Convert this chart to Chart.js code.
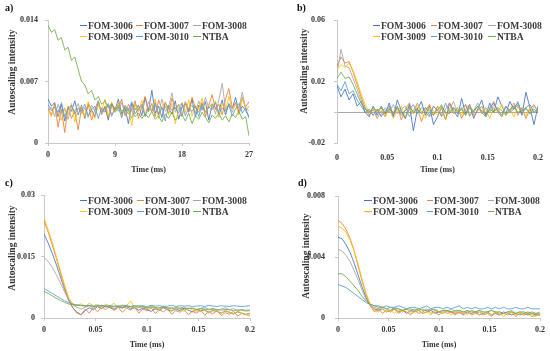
<!DOCTYPE html>
<html><head><meta charset="utf-8">
<script src="https://cdn.jsdelivr.net/npm/chart.js@4.4.1/dist/chart.umd.min.js"></script>
<style>
html,body{margin:0;padding:0;background:#fff;}
#wrap{position:relative;width:550px;height:351px;overflow:hidden;background:#fff;font-family:'Liberation Serif','Times New Roman',serif;font-weight:bold;color:#333;}
.panel{position:absolute;}
.lbl{position:absolute;font-size:10px;line-height:10px;color:#111;}
.ytitle{position:absolute;font-size:9.5px;line-height:10px;white-space:nowrap;transform:translate(-50%,-50%) rotate(-90deg);}
.leg{position:absolute;font-size:9.6px;line-height:11px;white-space:nowrap;color:#3a3a3a;}
.sw{position:absolute;height:1px;}
</style></head>
<body><div id="wrap"></div>
<script>
// ---------- data ----------
const seriesNames = ['FOM-3006','FOM-3007','FOM-3008','FOM-3009','FOM-3010','NTBA'];
const seriesColors = ['#4472C4','#ED7D31','#A5A5A5','#FFC000','#5B9BD5','#70AD47'];

// sampling grids (ms)
const timeA = Array.from({length:61},(_,i)=>Math.round(i*45)/100);
const timeBCD = Array.from({length:51},(_,i)=>Math.round(i*4)/1000);

const xTicksA = [0,9,18,27];           const xLabelsA = ['0','9','18','27'];
const xTicksB = [0,0.05,0.1,0.15,0.2]; const xLabelsB = ['0','0.05','0.1','0.15','0.2'];
const yTicksA = [0,0.007,0.014];       const yLabelsA = ['0','0.007','0.014'];
const yTicksB = [-0.02,0,0.02,0.06];   const yLabelsB = ['-0.02','','0.02','0.06'];
const yTicksC = [0,0.015,0.03];        const yLabelsC = ['0','0.015','0.03'];
const yTicksD = [0,0.004,0.008];       const yLabelsD = ['0','0.004','0.008'];

// panel a)
const A_3006 = [.0050,.0042,.0046,.0030,.0044,.0025,.0040,.0036,.0048,.0032,
 .0043,.0028,.0045,.0038,.0030,.0047,.0035,.0041,.0026,.0044,
 .0037,.0050,.0033,.0040,.0022,.0045,.0038,.0043,.0031,.0052,
 .0036,.0060,.0034,.0042,.0029,.0046,.0039,.0033,.0048,.0027,
 .0041,.0045,.0035,.0050,.0030,.0043,.0038,.0047,.0026,.0044,
 .0040,.0036,.0049,.0032,.0045,.0039,.0052,.0034,.0042,.0037,.0030];
const A_3007 = [.0040,.0032,.0045,.0018,.0038,.0012,.0042,.0028,.0036,.0015,
 .0040,.0030,.0044,.0026,.0038,.0048,.0033,.0042,.0029,.0046,
 .0035,.0040,.0050,.0031,.0044,.0037,.0048,.0028,.0041,.0053,
 .0036,.0045,.0030,.0049,.0038,.0042,.0034,.0051,.0039,.0044,
 .0031,.0047,.0036,.0052,.0040,.0035,.0046,.0030,.0043,.0055,
 .0038,.0044,.0032,.0050,.0062,.0040,.0046,.0035,.0052,.0041,.0047];
const A_3008 = [.0036,.0041,.0030,.0044,.0034,.0039,.0027,.0042,.0036,.0045,
 .0033,.0040,.0029,.0043,.0037,.0048,.0032,.0039,.0044,.0030,
 .0041,.0036,.0046,.0034,.0040,.0028,.0045,.0038,.0042,.0031,
 .0047,.0037,.0043,.0033,.0050,.0036,.0041,.0057,.0035,.0044,
 .0030,.0046,.0039,.0043,.0034,.0048,.0037,.0052,.0040,.0045,
 .0033,.0049,.0068,.0038,.0044,.0035,.0046,.0040,.0058,.0037,.0042];
const A_3009 = [.0038,.0030,.0042,.0034,.0026,.0040,.0032,.0045,.0024,.0038,
 .0042,.0030,.0047,.0035,.0028,.0043,.0037,.0050,.0031,.0040,
 .0035,.0046,.0029,.0042,.0038,.0020,.0044,.0036,.0048,.0033,
 .0041,.0037,.0050,.0028,.0042,.0047,.0032,.0045,.0022,.0040,
 .0046,.0035,.0049,.0031,.0043,.0038,.0051,.0034,.0044,.0040,
 .0048,.0029,.0045,.0037,.0053,.0039,.0044,.0032,.0050,.0041,.0036];
const A_3010 = [.0044,.0037,.0041,.0035,.0046,.0030,.0039,.0043,.0033,.0040,
 .0036,.0044,.0031,.0038,.0042,.0028,.0040,.0035,.0045,.0032,
 .0038,.0041,.0029,.0043,.0036,.0047,.0033,.0039,.0044,.0030,
 .0040,.0036,.0046,.0032,.0041,.0025,.0043,.0037,.0040,.0034,
 .0045,.0031,.0039,.0036,.0042,.0030,.0044,.0035,.0041,.0038,
 .0046,.0033,.0040,.0036,.0043,.0031,.0039,.0045,.0034,.0040,.0028];
const A_NTBA = [.0134,.0126,.0129,.0117,.0120,.0106,.0109,.0094,.0098,.0084,
 .0070,.0066,.0056,.0060,.0049,.0053,.0044,.0048,.0040,.0045,
 .0039,.0043,.0036,.0040,.0033,.0037,.0030,.0034,.0028,.0033,
 .0029,.0036,.0027,.0031,.0024,.0033,.0028,.0035,.0026,.0030,
 .0032,.0025,.0034,.0022,.0031,.0027,.0035,.0029,.0023,.0032,
 .0028,.0034,.0026,.0031,.0024,.0033,.0029,.0036,.0027,.0030,.0008];

// panel b)
const B_3006 = [.017,.010,.015,.008,.012,.004,.007,.000,-.003,.004,
 -.002,.004,-.001,.006,-.003,.008,.001,-.004,.005,-.012,
 .002,.007,-.002,.004,-.008,-.003,.003,-.005,.006,.001,
 -.003,.009,-.001,.005,-.004,.002,.008,-.002,.006,.000,
 .010,.004,-.001,.007,.002,.005,-.002,.013,.003,-.008,.004];
const B_3007 = [.030,.036,.032,.033,.026,.018,.010,.003,-.002,.002,
 -.004,.001,-.003,.003,-.002,.004,-.005,.002,.006,-.001,
 .003,-.006,.001,.005,-.002,.004,-.003,.002,.006,-.001,
 .003,-.004,.002,.005,-.002,.001,.004,-.003,.002,.007,
 .000,-.003,.004,.001,.006,-.002,.003,-.004,.002,.005,.000];
const B_3008 = [.025,.041,.030,.029,.022,.015,.008,.002,.001,-.002,
 .001,-.002,.003,.000,.005,-.001,.002,.004,-.003,.001,
 .006,.000,.003,-.002,.004,.001,.005,-.001,.002,.007,
 .000,.003,-.002,.004,.001,.006,-.001,.003,.000,.005,
 .002,-.002,.004,.001,.003,.006,.000,.002,-.001,.004,.001];
const B_3009 = [.028,.031,.029,.032,.027,.020,.012,.005,.000,.003,
 .000,.003,-.002,.002,-.004,.001,.004,-.003,.002,-.001,
 .005,.000,-.004,.003,.001,-.002,.004,-.005,.002,.000,
 .003,-.002,.005,-.003,.001,.004,-.001,.002,-.004,.003,
 .000,.005,-.002,.002,-.003,.004,.001,-.002,.003,.000,.002];
const B_3010 = [.018,.014,.020,.012,.014,.008,.004,.000,.002,-.002,
 .002,-.003,.001,.004,-.002,.003,.000,-.004,.002,.005,
 -.001,.003,.000,-.003,.004,.001,-.002,.006,.000,.003,
 -.001,.002,.005,-.002,.001,.004,.000,-.003,.003,.006,
 .001,-.002,.004,.000,.002,.007,-.001,.003,.005,.000,.002];
const B_NTBA = [.022,.026,.022,.023,.018,.012,.006,.002,.000,.003,
 .001,.003,-.001,.002,.000,.003,-.002,.001,.004,.000,
 .002,-.001,.003,.001,-.002,.002,.004,.000,-.001,.003,
 .001,.002,-.002,.003,.000,.004,.001,-.001,.002,.000,
 .003,.001,-.002,.002,.004,.000,.001,.003,-.001,.002,.000];

// panel c)
const C_3006 = [.0205,.0183,.0158,.0130,.0100,.0070,.0042,.0025,.0014,.0008,
 .0018,.0025,.0020,.0028,.0023,.0030,.0025,.0021,.0027,.0024,
 .0029,.0022,.0026,.0019,.0024,.0021,.0016,.0023,.0019,.0025,
 .0020,.0017,.0022,.0018,.0024,.0019,.0015,.0021,.0017,.0020,
 .0014,.0018,.0016,.0012,.0017,.0014,.0010,.0015,.0012,.0009,.0011];
const C_3007 = [.0238,.0210,.0178,.0145,.0110,.0075,.0045,.0025,.0012,.0008,
 .0022,.0012,.0025,.0015,.0028,.0020,.0030,.0018,.0026,.0014,
 .0024,.0019,.0027,.0012,.0022,.0017,.0025,.0011,.0020,.0015,
 .0023,.0009,.0018,.0014,.0021,.0008,.0016,.0012,.0019,.0007,
 .0015,.0010,.0018,.0006,.0013,.0009,.0016,.0005,.0011,.0008,.0006];
const C_3008 = [.0148,.0138,.0124,.0105,.0085,.0064,.0045,.0032,.0026,.0022,
 .0026,.0030,.0024,.0028,.0031,.0026,.0029,.0023,.0027,.0030,
 .0025,.0028,.0022,.0026,.0029,.0024,.0027,.0021,.0025,.0028,
 .0023,.0026,.0020,.0024,.0027,.0022,.0025,.0019,.0023,.0026,
 .0021,.0024,.0018,.0022,.0025,.0020,.0023,.0017,.0021,.0019,.0020];
const C_3009 = [.0245,.0215,.0185,.0150,.0115,.0080,.0050,.0034,.0030,.0035,
 .0028,.0036,.0030,.0033,.0027,.0034,.0029,.0036,.0025,.0032,
 .0030,.0042,.0024,.0031,.0028,.0022,.0030,.0026,.0020,.0029,
 .0024,.0018,.0027,.0022,.0016,.0025,.0020,.0015,.0023,.0018,
 .0012,.0021,.0016,.0011,.0019,.0014,.0009,.0017,.0012,.0008,.0012];
const C_3010 = [.0072,.0066,.0060,.0054,.0048,.0042,.0037,.0034,.0032,.0031,
 .0030,.0031,.0029,.0030,.0031,.0029,.0030,.0028,.0030,.0029,
 .0031,.0028,.0030,.0029,.0030,.0028,.0031,.0029,.0030,.0028,
 .0029,.0031,.0028,.0030,.0029,.0030,.0028,.0029,.0030,.0028,
 .0031,.0029,.0028,.0030,.0029,.0028,.0030,.0029,.0028,.0029,.0030];
const C_NTBA = [.0065,.0060,.0054,.0048,.0043,.0038,.0034,.0032,.0031,.0030,
 .0029,.0030,.0028,.0029,.0030,.0028,.0027,.0029,.0028,.0026,
 .0028,.0027,.0029,.0026,.0027,.0025,.0027,.0026,.0024,.0026,
 .0025,.0023,.0025,.0024,.0022,.0024,.0023,.0021,.0023,.0022,
 .0020,.0022,.0021,.0019,.0021,.0020,.0018,.0020,.0019,.0017,.0018];

// panel d)
const D_3006 = [.0053,.0052,.0048,.0043,.0036,.0028,.0020,.0013,.0008,.0006,
 .0005,.0006,.0004,.0005,.0006,.0004,.0005,.0003,.0005,.0004,
 .0005,.0003,.0004,.0005,.0003,.0004,.0003,.0005,.0004,.0003,
 .0004,.0002,.0004,.0003,.0004,.0002,.0003,.0004,.0002,.0003,
 .0002,.0004,.0003,.0002,.0003,.0002,.0003,.0002,.0003,.0002,.0002];
const D_3007 = [.0064,.0062,.0058,.0052,.0044,.0034,.0024,.0015,.0008,.0004,
 .0006,.0003,.0005,.0004,.0006,.0003,.0005,.0004,.0002,.0005,
 .0003,.0004,.0006,.0003,.0004,.0002,.0005,.0003,.0004,.0002,
 .0004,.0003,.0005,.0002,.0003,.0004,.0002,.0003,.0001,.0004,
 .0002,.0003,.0002,.0004,.0001,.0003,.0002,.0003,.0001,.0002,.0002];
const D_3008 = [.0045,.0044,.0041,.0037,.0031,.0025,.0018,.0012,.0008,.0007,
 .0006,.0007,.0006,.0005,.0007,.0006,.0005,.0006,.0004,.0006,
 .0005,.0006,.0004,.0005,.0006,.0004,.0005,.0004,.0006,.0004,
 .0005,.0004,.0003,.0005,.0004,.0005,.0003,.0004,.0005,.0003,
 .0004,.0003,.0004,.0005,.0003,.0004,.0003,.0004,.0003,.0003,.0004];
const D_3009 = [.0060,.0059,.0056,.0051,.0044,.0035,.0025,.0016,.0009,.0005,
 .0004,.0006,.0004,.0005,.0003,.0005,.0004,.0006,.0003,.0004,
 .0005,.0003,.0004,.0002,.0005,.0004,.0003,.0005,.0002,.0004,
 .0003,.0004,.0002,.0005,.0003,.0002,.0004,.0003,.0002,.0004,
 .0003,.0001,.0003,.0004,.0002,.0003,.0002,.0004,.0002,.0001,.0003];
const D_3010 = [.0022,.0021,.0020,.0018,.0016,.0014,.0012,.0010,.0009,.0008,
 .0008,.0007,.0008,.0007,.0007,.0008,.0007,.0006,.0007,.0007,
 .0006,.0007,.0008,.0006,.0007,.0007,.0006,.0007,.0006,.0007,
 .0008,.0006,.0007,.0006,.0007,.0006,.0006,.0007,.0006,.0007,
 .0006,.0007,.0006,.0006,.0007,.0006,.0006,.0007,.0006,.0006,.0006];
const D_NTBA = [.0029,.0029,.0027,.0024,.0021,.0018,.0014,.0011,.0009,.0008,
 .0007,.0007,.0006,.0007,.0006,.0006,.0005,.0006,.0006,.0005,
 .0006,.0005,.0005,.0006,.0005,.0004,.0005,.0005,.0004,.0005,
 .0005,.0004,.0005,.0004,.0004,.0005,.0004,.0004,.0005,.0004,
 .0004,.0003,.0004,.0004,.0003,.0004,.0004,.0003,.0004,.0003,.0003];

// ---------- layout / styling ----------
const FONT = "'Liberation Serif','Times New Roman',serif";
const AXIS = '#c8c8c8';
const TXT = '#333';
const LINE_ALPHA = 'd9';

const panels = [
 {label:'a)', left:0, top:0, w:275, h:175, time:timeA, series:[A_3006,A_3007,A_3008,A_3009,A_3010,A_NTBA],
  xMin:0, xMax:27, xTicks:xTicksA, xLabels:xLabelsA, yMin:0, yMax:0.014, yTicks:yTicksA, yLabels:yLabelsA,
  yW:48, pad:{left:0,right:26,top:20,bottom:0}, yPad:7, zero:false,
  lab:[5,3], yt:[12,72], leg:{sw:[80,136,193], tx:[88,144,202], rows:[25,36]}},
 {label:'b)', left:275, top:0, w:275, h:175, time:timeBCD, series:[B_3006,B_3007,B_3008,B_3009,B_3010,B_NTBA],
  xMin:0, xMax:0.2, xTicks:xTicksB, xLabels:xLabelsB, yMin:-0.02, yMax:0.06, yTicks:yTicksB, yLabels:yLabelsB,
  yW:62, pad:{left:0,right:12,top:20,bottom:0}, yPad:9, zero:true,
  lab:[297,3], yt:[304,71], leg:{sw:[373,431,488], tx:[381,438,497], rows:[25,36]}},
 {label:'c)', left:0, top:175, w:275, h:176, time:timeBCD, series:[C_3006,C_3007,C_3008,C_3009,C_3010,C_NTBA],
  xMin:0, xMax:0.2, xTicks:xTicksB, xLabels:xLabelsB, yMin:0, yMax:0.03, yTicks:yTicksC, yLabels:yLabelsC,
  yW:44, pad:{left:0,right:25,top:20,bottom:1}, yPad:6, zero:false,
  lab:[5,178], yt:[12,248], leg:{sw:[80,137,193], tx:[88,145,202], rows:[200,211]}},
 {label:'d)', left:275, top:175, w:275, h:176, time:timeBCD, series:[D_3006,D_3007,D_3008,D_3009,D_3010,D_NTBA],
  xMin:0, xMax:0.2, xTicks:xTicksB, xLabels:xLabelsB, yMin:0, yMax:0.008, yTicks:yTicksD, yLabels:yLabelsD,
  yW:63, pad:{left:0,right:10,top:21,bottom:1}, yPad:10, zero:false,
  lab:[298,178], yt:[306,256], leg:{sw:[364,427,488], tx:[373,434,495], rows:[200,211]}}
];

const wrap = document.getElementById('wrap');

panels.forEach((p) => {
  const div = document.createElement('div');
  div.className = 'panel';
  div.style.cssText = `left:${p.left}px;top:${p.top}px;width:${p.w}px;height:${p.h}px;`;
  const cv = document.createElement('canvas');
  cv.width = p.w; cv.height = p.h;
  cv.style.width = p.w + 'px'; cv.style.height = p.h + 'px';
  div.appendChild(cv);
  wrap.appendChild(div);

  const datasets = p.series.map((vals, si) => ({
    label: seriesNames[si],
    data: vals.map((v, i) => ({x: p.time[i], y: v})),
    borderColor: seriesColors[si] + LINE_ALPHA,
    backgroundColor: seriesColors[si],
    borderWidth: 1,
    pointRadius: 0,
    tension: 0,
    fill: false,
    order: 5 - si
  }));

  new Chart(cv, {
    type: 'line',
    data: {datasets},
    options: {
      responsive: false, animation: false, devicePixelRatio: 1,
      layout: {padding: p.pad},
      plugins: {legend: {display: false}, tooltip: {enabled: false}},
      scales: {
        x: {
          type: 'linear', min: p.xMin, max: p.xMax,
          afterBuildTicks: s => { s.ticks = p.xTicks.map(v => ({value: v})); },
          afterFit: s => { s.height = 32; },
          ticks: {callback: (v, i) => p.xLabels[i], autoSkip: false, maxRotation: 0,
                  padding: p.zero ? 7 : 4, color: TXT, font: {family: FONT, size: 8, weight: 'bold'}},
          grid: {display: !p.zero, drawOnChartArea: false, drawTicks: true, tickLength: 3, color: AXIS},
          border: {display: !p.zero, color: AXIS, width: 1},
          title: {display: true, text: 'Time (ms)', color: TXT, padding: {top: 0, bottom: 0},
                  font: {family: FONT, size: 8, weight: 'bold', lineHeight: 1.2}}
        },
        y: {
          type: 'linear', min: p.yMin, max: p.yMax,
          afterBuildTicks: s => { s.ticks = p.yTicks.map(v => ({value: v})); },
          afterFit: s => { s.width = p.yW; },
          ticks: {callback: (v, i) => p.yLabels[i], autoSkip: false, padding: p.yPad, color: TXT,
                  font: {family: FONT, size: 8, weight: 'bold'}},
          grid: {drawOnChartArea: p.zero, drawTicks: true, tickLength: 3, tickColor: AXIS,
                 color: c => (p.zero && c.tick && c.tick.value === 0) ? '#a9a9a9' : 'rgba(0,0,0,0)'},
          border: {display: true, color: AXIS, width: 1}
        }
      }
    }
  });

  const lab = document.createElement('div');
  lab.className = 'lbl'; lab.textContent = p.label;
  lab.style.left = p.lab[0] + 'px'; lab.style.top = p.lab[1] + 'px';
  wrap.appendChild(lab);

  const yt = document.createElement('div');
  yt.className = 'ytitle'; yt.textContent = 'Autoscaling intensity';
  yt.style.left = p.yt[0] + 'px'; yt.style.top = p.yt[1] + 'px';
  wrap.appendChild(yt);

  seriesNames.forEach((name, si) => {
    const col = si % 3, row = Math.floor(si / 3);
    const cy = p.leg.rows[row];
    const sw = document.createElement('div');
    sw.className = 'sw';
    sw.style.left = p.leg.sw[col] + 'px';
    sw.style.top = cy + 'px';
    sw.style.width = (p.leg.tx[col] - p.leg.sw[col] - 1) + 'px';
    sw.style.background = seriesColors[si];
    wrap.appendChild(sw);
    const t = document.createElement('div');
    t.className = 'leg'; t.textContent = name;
    t.style.left = p.leg.tx[col] + 'px';
    t.style.top = (cy - 5.5) + 'px';
    wrap.appendChild(t);
  });
});
</script>
</body></html>
